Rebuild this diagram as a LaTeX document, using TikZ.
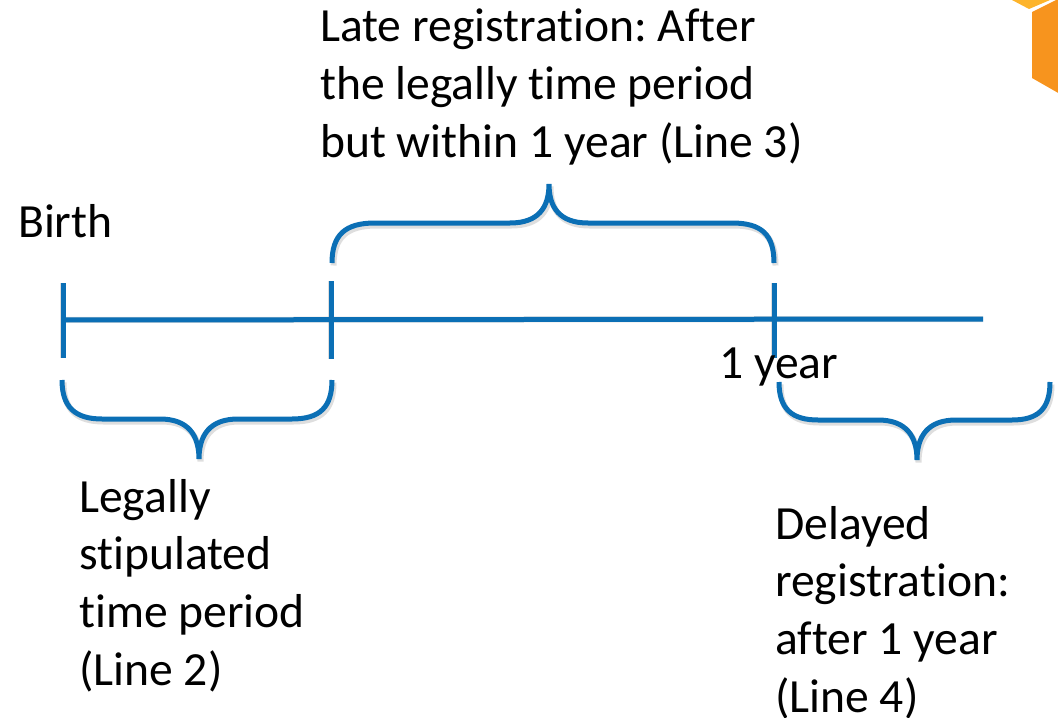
\documentclass[tikz,border=0pt]{standalone}
\usepackage{fontspec}
\setmainfont{Carlito}[Ligatures={NoCommon,NoRare,NoContextual}]
\frenchspacing
\definecolor{lineblue}{HTML}{0B6FB5}
\definecolor{cubetop}{HTML}{FDB42B}
\definecolor{cuberight}{HTML}{F7941E}
\begin{document}
\begin{tikzpicture}[x=1bp,y=-1bp,
  bl/.style={draw=lineblue, line width=5bp},
  sh/.style={draw=black, opacity=0.13, line width=6bp, shift={(1.5,2.5)}},
  txt/.style={anchor=base west, inner sep=0pt, font=\fontsize{47.6bp}{57.8bp}\selectfont}]
\useasboundingbox (0,0) rectangle (1058,718);
% cube corner
\fill[cubetop] (1012,0) -- (1029,9) -- (1050,0) -- cycle;
\fill[cuberight] (1032,12) -- (1060,-2) -- (1060,94) -- (1032,78) -- cycle;
% coordinates
\coordinate (start) at (62,320);
\coordinate (end) at (983,319);
\coordinate (t1a) at (63,283); \coordinate (t1b) at (63,358);
\coordinate (t2a) at (331,281); \coordinate (t2b) at (331,359);
\coordinate (t3a) at (774,283); \coordinate (t3b) at (774,358);
% braces paths
\def\topbrace{(332,263) .. controls (332,235) and (345,223) .. (375,223) -- (510,223) .. controls (538,223) and (549,208) .. (549,184) .. controls (549,208) and (560,223) .. (588,223) -- (732,223) .. controls (762,223) and (774,235) .. (774,263)}
\def\leftbrace{(62,380) .. controls (62,407) and (75,419) .. (102,419) -- (160,419) .. controls (188,419) and (199,435) .. (199,459) .. controls (199,435) and (210,419) .. (238,419) -- (292,419) .. controls (320,419) and (332,407) .. (332,380)}
\def\rightbrace{(779,382) .. controls (779,409) and (792,420) .. (818,420) -- (878,420) .. controls (906,420) and (917,436) .. (917,460) .. controls (917,436) and (928,420) .. (956,420) -- (1012,420) .. controls (1038,420) and (1050,409) .. (1050,382)}
% shadows
\path[sh] (start) -- (end);
\path[sh] (t1a) -- (t1b);
\path[sh] (t2a) -- (t2b);
\path[sh] (t3a) -- (t3b);
\path[sh] \topbrace;
\path[sh] \leftbrace;
\path[sh] \rightbrace;
% lines
\draw[bl] (start) -- (end);
\draw[bl] (t1a) -- (t1b);
\draw[bl] (t2a) -- (t2b);
\draw[bl] (t3a) -- (t3b);
\draw[bl] \topbrace;
\draw[bl] \leftbrace;
\draw[bl] \rightbrace;
% texts
\node[txt] (late) at (320,42) {\vtop{\hbox{Late registration: After}\hbox{the legally time period}\hbox{but within 1 year (Line 3)}}};
\node[txt] (birth) at (18,237) {Birth};
\node[txt] (oneyear) at (719,378) {1 year};
\node[txt] (legal) at (79,512) {\vtop{\hbox{Legally}\hbox{stipulated}\hbox{time period}\hbox{(Line 2)}}};
\node[txt] (delayed) at (775,539) {\vtop{\hbox{Delayed}\hbox{registration:}\hbox{after 1 year}\hbox{(Line 4)}}};
\end{tikzpicture}
\end{document}
